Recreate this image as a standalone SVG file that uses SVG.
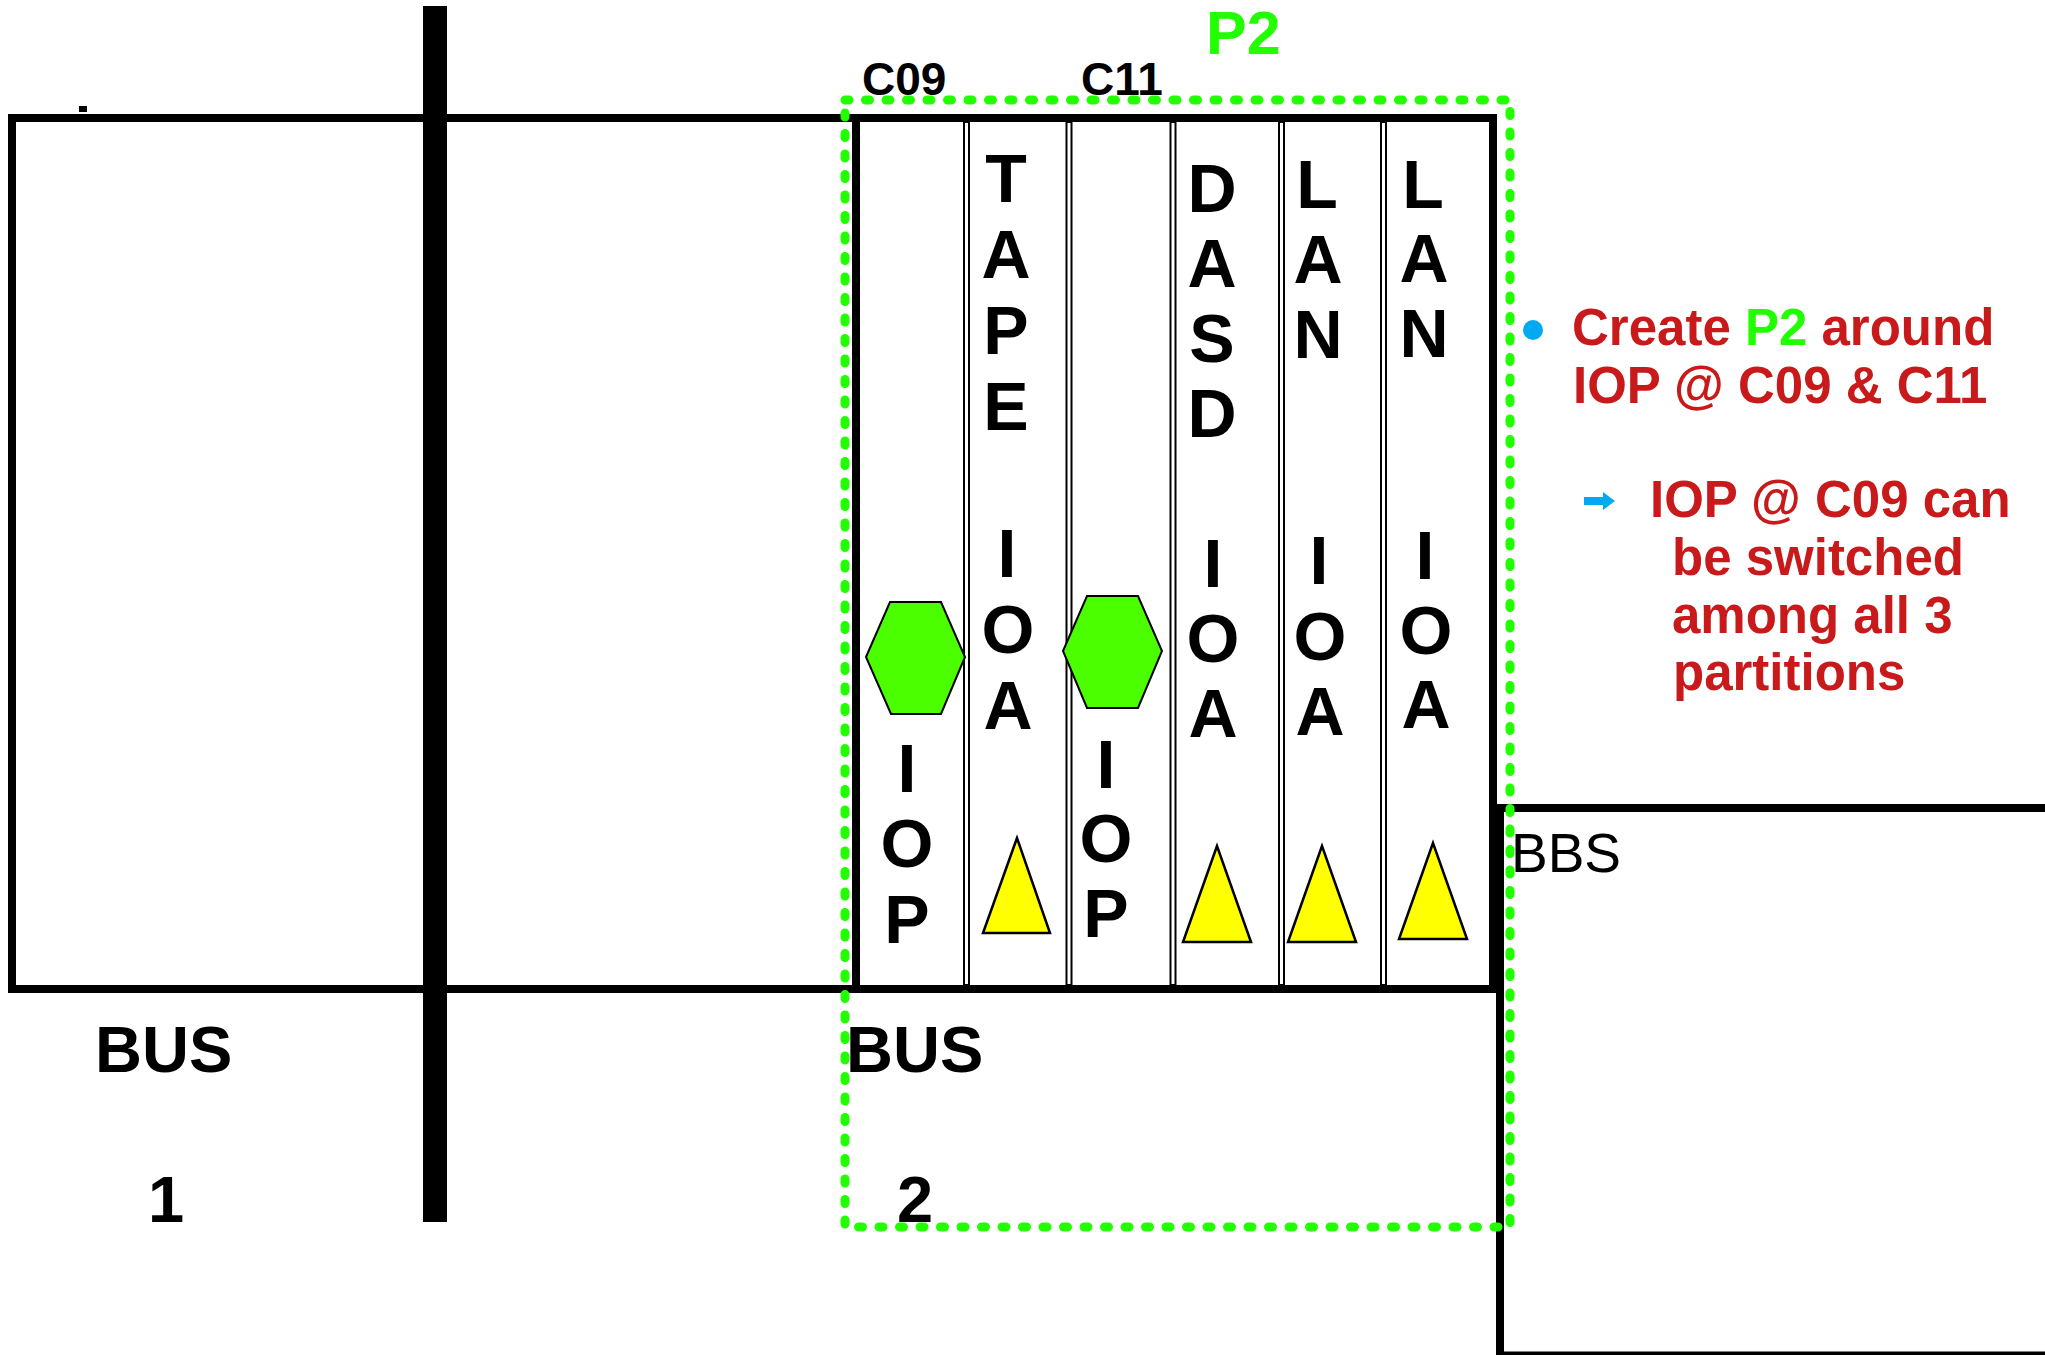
<svg xmlns="http://www.w3.org/2000/svg" width="2045" height="1355" viewBox="0 0 2045 1355">
  <style>
    .ln { fill: none; stroke: #000; stroke-width: 8; }
    .div { fill: #fff; stroke: #000; stroke-width: 2; }
    .hex { fill: #4cff00; stroke: #000; stroke-width: 2; }
    .tri { fill: #ffff00; stroke: #000; stroke-width: 2.5; stroke-linejoin: miter; }
    .vt { font-family: "Liberation Sans", Arial, sans-serif; font-weight: bold; font-size: 68px; fill: #000; text-anchor: middle; }
    .lbl { font-family: "Liberation Sans", Arial, sans-serif; font-weight: bold; fill: #000; }
    .note { font-family: "Liberation Sans", Arial, sans-serif; font-weight: bold; font-size: 51px; fill: #c81a1a; }
    .grn { fill: #22ff00; }
  </style>

  <rect width="2045" height="1355" fill="#fff"/>

  <g id="frame">
    <rect class="ln" x="12" y="118" width="1481" height="871"/>
    <rect x="79" y="106" width="8" height="6" fill="#000"/>
  </g>

  <g id="bus-divider">
    <rect x="423" y="6" width="24" height="1216" fill="#000"/>
  </g>

  <g id="cage">
    <line class="ln" x1="856" y1="118" x2="856" y2="989"/>
    <rect class="div" x="964" y="122" width="5" height="863"/>
    <rect class="div" x="1066.5" y="122" width="5" height="863"/>
    <rect class="div" x="1170.5" y="122" width="5" height="863"/>
    <rect class="div" x="1279" y="122" width="5" height="863"/>
    <rect class="div" x="1381" y="122" width="5" height="863"/>
  </g>

  <g id="bbs">
    <path class="ln" d="M1500,1356 V808 H2050"/>
    <line x1="1500" y1="1354" x2="2045" y2="1354" stroke="#000" stroke-width="5"/>
    <text x="1511" y="872" font-family="Liberation Sans, Arial, sans-serif" font-size="55">BBS</text>
  </g>

  <g id="slot-c09-iop">
    <polygon class="hex" points="866,657 890,602 941,602 965,657 941,714 891,714"/>
    <text class="vt"><tspan x="907" y="792">I</tspan><tspan x="907" y="867">O</tspan><tspan x="907" y="943">P</tspan></text>
  </g>

  <g id="slot-tape-ioa">
    <text class="vt"><tspan x="1006" y="202">T</tspan><tspan x="1006" y="278">A</tspan><tspan x="1006" y="354">P</tspan><tspan x="1006" y="430">E</tspan><tspan x="1007" y="577">I</tspan><tspan x="1008" y="653">O</tspan><tspan x="1008" y="729">A</tspan></text>
    <polygon class="tri" points="1017,838 983,933 1050,933"/>
  </g>

  <g id="slot-c11-iop">
    <polygon class="hex" points="1063,651 1087,596 1138,596 1162,651 1138,708 1087,708"/>
    <text class="vt"><tspan x="1106" y="788">I</tspan><tspan x="1106" y="862">O</tspan><tspan x="1106" y="937">P</tspan></text>
  </g>

  <g id="slot-dasd-ioa">
    <text class="vt"><tspan x="1212" y="212">D</tspan><tspan x="1212" y="287">A</tspan><tspan x="1212" y="362">S</tspan><tspan x="1212" y="437">D</tspan><tspan x="1213" y="587">I</tspan><tspan x="1213" y="662">O</tspan><tspan x="1213" y="737">A</tspan></text>
    <polygon class="tri" points="1217,846 1183,942 1251,942"/>
  </g>

  <g id="slot-lan1-ioa">
    <text class="vt"><tspan x="1317" y="208">L</tspan><tspan x="1318" y="283">A</tspan><tspan x="1318" y="358">N</tspan><tspan x="1319" y="584">I</tspan><tspan x="1320" y="660">O</tspan><tspan x="1320" y="735">A</tspan></text>
    <polygon class="tri" points="1322,846 1288,942 1356,942"/>
  </g>

  <g id="slot-lan2-ioa">
    <text class="vt"><tspan x="1423" y="208">L</tspan><tspan x="1424" y="282">A</tspan><tspan x="1424" y="357">N</tspan><tspan x="1425" y="579">I</tspan><tspan x="1426" y="654">O</tspan><tspan x="1426" y="728">A</tspan></text>
    <polygon class="tri" points="1433,843 1399,939 1467,939"/>
  </g>

  <g id="labels">
    <text class="lbl" x="862" y="95" font-size="46">C09</text>
    <text class="lbl" x="1081" y="95" font-size="46">C11</text>
    <text class="lbl" x="95" y="1072" font-size="65">BUS</text>
    <text class="lbl" x="148" y="1222" font-size="65">1</text>
    <text class="lbl" x="846" y="1072" font-size="65">BUS</text>
    <text class="lbl" x="897" y="1222" font-size="65">2</text>
  </g>

  <g id="partition-p2">
    <rect x="845" y="100" width="665" height="1127" fill="none" stroke="#22ff00" stroke-width="9" stroke-linecap="round" stroke-dasharray="4 16.5"/>
    <text class="lbl grn" x="1206" y="54" font-size="61">P2</text>
  </g>

  <g id="notes">
    <circle cx="1533" cy="330" r="10" fill="#00aaf0"/>
    <text class="note" x="1572" y="345">Create <tspan class="grn">P2</tspan> around</text>
    <text class="note" x="1573" y="403">IOP @ C09 &amp; C11</text>
    <path d="M1584,497 H1603 V492 L1615,501 L1603,510 V505 H1584 Z" fill="#00aaf0"/>
    <text class="note" x="1650" y="517">IOP @ C09 can</text>
    <text class="note" x="1672" y="575">be switched</text>
    <text class="note" x="1672" y="633">among all 3</text>
    <text class="note" x="1673" y="690">partitions</text>
  </g>

  <g id="connectors"/>
</svg>
